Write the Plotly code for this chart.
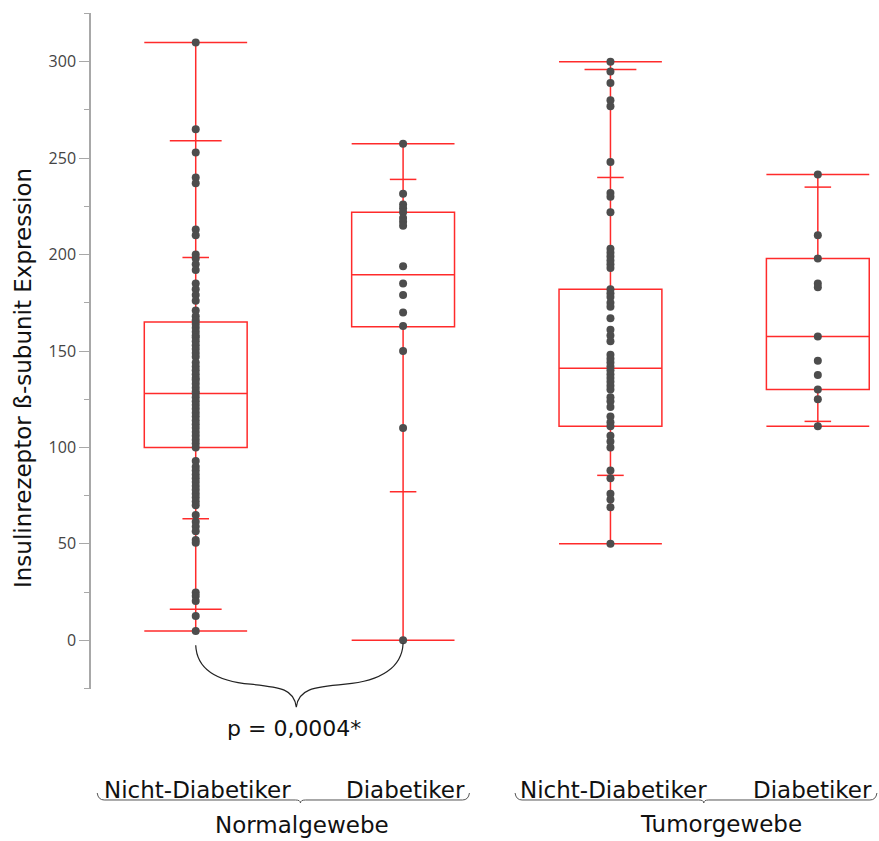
import plotly.graph_objects as go

# ---------------- data ----------------
categories = ["Nicht-Diabetiker", "Diabetiker", "Nicht-Diabetiker", "Diabetiker"]
groups = ["Normalgewebe", "Tumorgewebe"]

normal_nd = [310, 265, 253, 240, 237, 213, 210, 200, 198, 195, 192, 185, 182, 179, 176,
             171, 168, 166, 164, 162, 160, 158, 157, 155, 153, 151, 149, 147, 144, 142,
             140, 138, 136, 135, 133, 131, 129, 128, 126, 124, 122, 120, 118, 116, 114,
             112, 110, 108, 106, 104, 102, 100, 93, 90, 88, 86, 84, 82, 80, 78, 76, 74,
             72, 70, 65, 61.5, 59, 56.5, 52, 50.5, 24.7, 22.9, 20.3, 12.6, 4.8]
normal_d = [257.5, 231.5, 226, 224, 222, 219, 217, 215, 194, 185, 179, 170, 163, 150, 110, 0]
tumor_nd = [300, 295, 289, 280, 277, 248, 232, 230, 222, 203, 201, 199, 197, 195, 193,
            182, 180, 178, 175, 173, 167, 161, 158, 155, 148, 146, 144, 142, 140, 138,
            136, 134, 132, 130, 126, 124, 121, 116, 113, 111, 106, 103, 100, 88, 84, 76,
            73, 69, 50]
tumor_d = [241.5, 210, 198, 185, 183, 157.5, 145, 137.5, 130, 125, 111]
points = [normal_nd, normal_d, tumor_nd, tumor_d]

box_min = [4.8, 0, 50, 111]
box_q1 = [100, 162.6, 111, 130]
box_median = [128, 189.5, 141, 157.5]
box_q3 = [165, 222, 182, 198]
box_max = [310, 257.5, 300, 241.5]

# wide quantile marks (2.5 % / 97.5 %) and narrow marks (10 % / 90 %)
q_wide = [[16, 259], [], [296], []]
q_narrow = [[63, 198.5], [77, 239], [85.5, 240], [113.5, 235]]

p_text = "p = 0,0004*"
y_title = "Insulinrezeptor ß-subunit Expression"
y_ticks = [0, 50, 100, 150, 200, 250, 300]

# ---------------- layout constants ----------------
FW, FH = 879, 841
ML, MR, MT, MB = 91, 0, 13, 152
PW, PH = FW - ML - MR, FH - MT - MB
XR = [-0.505, 3.295]
YR = [-25.3, 325.3]
RED = "#ff2b2b"
DOT = "#4d4d4d"
FONT = "DejaVu Sans"


def px_x(p):
    return (p - ML) / PW


def px_y(p):
    return (FH - MB - p) / PH


def dx(v):
    return ML + (v - XR[0]) / (XR[1] - XR[0]) * PW


def dy(v):
    return MT + (YR[1] - v) / (YR[1] - YR[0]) * PH


fig = go.Figure()

xs = list(range(len(categories)))
for i in xs:
    fig.add_trace(go.Box(
        x=[i], q1=[box_q1[i]], median=[box_median[i]], q3=[box_q3[i]],
        lowerfence=[box_min[i]], upperfence=[box_max[i]],
        width=0.496, whiskerwidth=1, boxpoints=False,
        line=dict(color=RED, width=1.5), fillcolor="rgba(0,0,0,0)",
        hoverinfo="skip", showlegend=False))

# quantile marks
tx, ty = [], []
for i in xs:
    for v in q_wide[i]:
        tx += [i - 0.125, i + 0.125, None]
        ty += [v, v, None]
    for v in q_narrow[i]:
        tx += [i - 0.064, i + 0.064, None]
        ty += [v, v, None]
fig.add_trace(go.Scatter(x=tx, y=ty, mode="lines", line=dict(color=RED, width=1.5),
                         hoverinfo="skip", showlegend=False))

# data points
for i in xs:
    fig.add_trace(go.Scatter(x=[i] * len(points[i]), y=points[i], mode="markers",
                             marker=dict(color=DOT, size=8, line=dict(width=0)),
                             hoverinfo="skip", showlegend=False))

shapes = []
annotations = []

# curly brace between the two Normalgewebe groups
x0, x1 = dx(0), dx(1)
xm = x0 + 0.485 * (x1 - x0)
yt = dy(0) + 5
yb = dy(0) + 67
ym = dy(0) + 44
path_px = [
    ("M", x0, yt),
    ("C", x0 + 1, yt + 23), ("", x0 + 20, ym - 3), ("", x0 + 55, ym),
    ("C", xm - 15, ym + 3), ("", xm - 2, ym + 5), ("", xm, yb),
    ("C", xm + 2, ym + 5), ("", xm + 16, ym + 3), ("", xm + 49, ym),
    ("C", x1 - 22, ym - 3), ("", x1 - 1, yt + 22), ("", x1, yt - 2),
]
path = " ".join(f"{c} {px_x(a):.5f},{px_y(b):.5f}" for c, a, b in path_px)
shapes.append(dict(type="path", xref="paper", yref="paper", path=path,
                   line=dict(color="#222222", width=1.2)))

annotations.append(dict(text=p_text, xref="paper", yref="paper",
                        x=px_x(xm - 2), y=px_y(728), xanchor="center", yanchor="middle",
                        showarrow=False, font=dict(family=FONT, size=22, color="#111111")))

# group braces under category labels
def group_brace(xa, xb, xc, y=800):
    pts = [("M", xa, y - 7), ("Q", xa + 1, y), ("", xa + 7, y), ("L", xc - 5, y),
           ("Q", xc, y), ("", xc, y + 3), ("Q", xc, y), ("", xc + 5, y),
           ("L", xb - 7, y), ("Q", xb - 1, y), ("", xb, y - 7)]
    return " ".join(f"{c} {px_x(a):.5f},{px_y(b):.5f}" for c, a, b in pts)

for (xa, xb, xc) in [(dx(-0.475), dx(1.32), dx(0.505)), (dx(1.54), dx(3.285), dx(2.45))]:
    shapes.append(dict(type="path", xref="paper", yref="paper", path=group_brace(xa, xb, xc),
                       line=dict(color="#555555", width=1)))

cat_pos = [0.008, 1.01, 2.016, 2.972]
for i, c in enumerate(categories):
    annotations.append(dict(text=c, xref="x", yref="paper", x=cat_pos[i], y=px_y(790),
                            xanchor="center", yanchor="middle", showarrow=False,
                            font=dict(family=FONT, size=23, color="#111111")))
grp_pos = [(0.512, 825), (2.531, 824)]
for g, (gx, gy) in zip(groups, grp_pos):
    annotations.append(dict(text=g, xref="x", yref="paper", x=gx, y=px_y(gy),
                            xanchor="center", yanchor="middle", showarrow=False,
                            font=dict(family=FONT, size=23, color="#111111")))

annotations.append(dict(text=y_title, xref="paper", yref="paper", x=px_x(23), y=px_y(378),
                        xanchor="center", yanchor="middle", textangle=-90, showarrow=False,
                        font=dict(family=FONT, size=23, color="#111111")))

fig.update_layout(
    width=FW, height=FH,
    margin=dict(l=ML, r=MR, t=MT, b=MB, pad=0, autoexpand=False),
    paper_bgcolor="white", plot_bgcolor="white",
    showlegend=False,
    xaxis=dict(range=XR, visible=False, showgrid=False, zeroline=False),
    yaxis=dict(range=YR, tickvals=y_ticks, ticks="outside", ticklen=10, tickwidth=1.3,
               tickcolor="#a8a8a8", showline=True, linecolor="#a8a8a8", linewidth=1.5,
               showgrid=False, zeroline=False, automargin=False,
               tickfont=dict(family="Open Sans", size=16, color="#444444"),
               minor=dict(ticks="outside", ticklen=5, tickwidth=1.3, tickcolor="#a8a8a8",
                          tick0=-25, dtick=25, showgrid=False)),
    shapes=shapes, annotations=annotations,
)

fig.write_html("out.html",
               config={"displayModeBar": False},
               post_script="document.body.style.margin='0px';"
                           "document.body.style.overflow='hidden';")
